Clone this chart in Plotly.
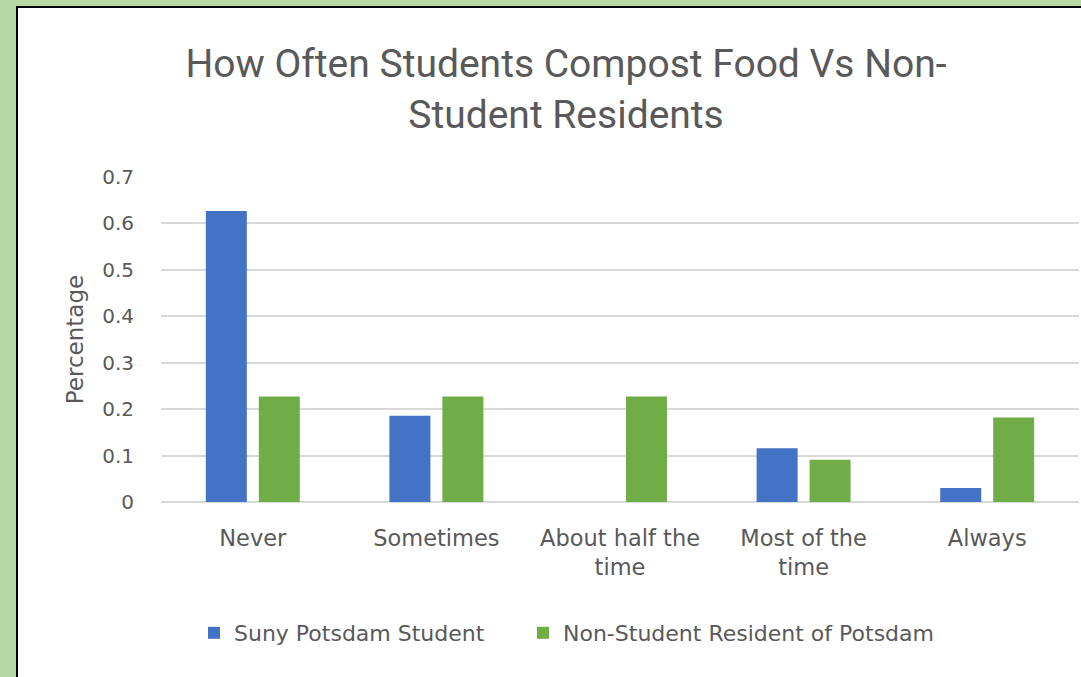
import plotly.graph_objects as go

categories = ["Never", "Sometimes", "About half the<br>time", "Most of the<br>time", "Always"]
student_values = [0.627, 0.186, 0.0, 0.116, 0.030]
resident_values = [0.227, 0.227, 0.227, 0.091, 0.182]
series_names = ["Suny Potsdam Student", "Non-Student Resident of Potsdam"]
y_ticks = [0, 0.1, 0.2, 0.3, 0.4, 0.5, 0.6, 0.7]
y_tick_labels = ["0", "0.1", "0.2", "0.3", "0.4", "0.5", "0.6", "0.7"]

W, H = 1081, 677
ML, MR, MT, MB = 161, 2, 177, 175
PW = W - ML - MR
PH = H - MT - MB
BG = "#b5d6a5"

def px_x(p):
    return (p - ML) / PW

def px_y(p):
    return (H - MB - p) / PH

TXT = "#595959"
LEG_FONT = dict(family="DejaVu Sans", size=22, color=TXT)

fig = go.Figure()
fig.add_trace(go.Bar(x=categories, y=student_values, name=series_names[0],
                     marker=dict(color="#4472c4", line=dict(width=0)), legend="legend"))
fig.add_trace(go.Bar(x=categories, y=resident_values, name=series_names[1],
                     marker=dict(color="#70ad47", line=dict(width=0)), legend="legend2"))

fig.update_layout(
    width=W, height=H,
    margin=dict(l=ML, r=MR, t=MT, b=MB, autoexpand=False),
    paper_bgcolor=BG,
    plot_bgcolor="white",
    barmode="group", bargap=0.423, bargroupgap=0.226,
    title=dict(text="How Often Students Compost Food Vs Non-<br>Student Residents",
               font=dict(family="Roboto", size=39, color=TXT),
               xref="container", yref="container", x=566 / W, xanchor="center",
               y=1 - 77 / H, yanchor="top"),
    font=dict(family="DejaVu Sans", color=TXT),
    showlegend=True,
    legend=dict(orientation="h", x=px_x(194), xanchor="left", y=px_y(633), yanchor="middle",
                font=LEG_FONT, bgcolor="rgba(0,0,0,0)", itemwidth=30),
    legend2=dict(orientation="h", x=px_x(523), xanchor="left", y=px_y(633), yanchor="middle",
                 font=LEG_FONT, bgcolor="rgba(0,0,0,0)", itemwidth=30),
    shapes=[dict(type="rect", xref="paper", yref="paper",
                 x0=px_x(17), x1=px_x(1100), y0=px_y(700), y1=px_y(7),
                 fillcolor="white", line=dict(color="black", width=2), layer="below")],
)
fig.update_xaxes(showgrid=False, showline=False, ticks="",
                 tickfont=dict(family="DejaVu Sans", size=22.5, color=TXT),
                 ticklabelstandoff=20, fixedrange=True)
fig.update_yaxes(range=[0, 0.7], tickvals=y_ticks, ticktext=y_tick_labels,
                 showgrid=True, gridcolor="#d9d9d9", gridwidth=1.5,
                 zeroline=True, zerolinecolor="#d9d9d9", zerolinewidth=1.5,
                 showline=False, ticks="",
                 tickfont=dict(family="DejaVu Sans", size=20, color=TXT),
                 ticklabelstandoff=26,
                 title=dict(text="Percentage", font=dict(family="DejaVu Sans", size=23, color=TXT),
                            standoff=12))

fig.write_html("out.html", config={"displayModeBar": False},
               post_script="document.body.style.margin='0';document.body.style.background='" + BG + "';")
